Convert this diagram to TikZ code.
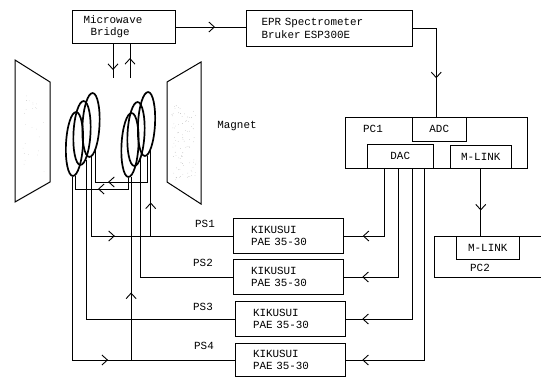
\documentclass[tikz,border=0pt]{standalone}
\usepackage{fontspec}
\setmonofont{Liberation Mono}
\usetikzlibrary{decorations.markings, arrows.meta, shapes.geometric}

\tikzset{
  every node/.style={font=\fontsize{10.9}{12.5}\selectfont\ttfamily},
  >={Straight Barb[length=5.5pt,width=10pt,line width=.9pt]},
  wire/.style={line width=.9pt},
  midtip/.style={wire, postaction={decorate}, decoration={markings, mark=at position #1pt with {\arrow{>}}}},
  unitbox/.style={draw, line width=1pt, rectangle, anchor=north west, inner sep=0pt, align=left},
  psubox/.style={unitbox, minimum width=110pt, minimum height=34pt, inner xsep=17.5pt, text width=75pt},
  cardbox/.style={draw, line width=.5pt, rectangle, anchor=north west, inner sep=0pt},
  coil/.style={draw, ellipse, line width=1.7pt, inner sep=0pt, minimum width=17pt, minimum height=64pt, rotate=-3},
  magnetplate/.style={line width=1pt}
}

\begin{document}
\begin{tikzpicture}[x=1pt, y=-1pt]
  \useasboundingbox (0, 0) rectangle (541, 378);

  % ----- Magnet: two pole plates -----
  \draw[magnetplate] (15, 60) -- (50, 82) -- (50, 182) -- (15, 202) -- cycle;
  \draw[magnetplate] (167, 82) -- (201, 62) -- (201, 204) -- (167, 182) -- cycle;
  \pgfmathsetseed{7}
  \foreach \i in {1,...,90} {
    \fill[gray!70] ({172+rnd*24}, {105+rnd*75}) circle (.3);
  }
  \foreach \i in {1,...,25} {
    \fill[gray!50] ({22+rnd*24}, {90+rnd*85}) circle (.3);
  }
  \node (magnet) at (237, 126) {Magnet};

  % ----- Coils -----
  \node[coil] (coilC) at (91, 125) {};
  \node[coil] (coilB) at (82, 133) {};
  \node[coil] (coilA) at (74.5, 144) {};
  \node[coil] (coilF) at (146.5, 124) {};
  \node[coil] (coilE) at (136, 134) {};
  \node[coil] (coilD) at (130, 145) {};

  % ----- Top row -----
  \node[unitbox, minimum width=103pt, minimum height=33pt, inner xsep=11pt, text width=81pt] (micro) at (72, 10) {Microwave\\[-.5pt]\hspace*{7pt}Bridge};
  \node[unitbox, minimum width=166pt, minimum height=36pt, inner xsep=15pt, text width=136pt] (epr) at (246, 10) {EPR Spectrometer\\Bruker ESP300E};
  \coordinate (wavein) at (113, 78);
  \coordinate (waveout) at (130, 78);

  % ----- PC1 with its cards -----
  \node[unitbox, minimum width=182pt, minimum height=51pt] (pcone) at (345, 117) {};
  \node (pconelabel) at (373, 129) {PC1};
  \node[cardbox, minimum width=54pt, minimum height=24pt] (adc) at (412, 117) {ADC};
  \node[cardbox, minimum width=66pt, minimum height=24pt] (dac) at (367, 144) {DAC};
  \node[cardbox, minimum width=61pt, minimum height=23pt] (mlinkone) at (450, 145) {M-LINK};

  % ----- PC2 -----
  \node[unitbox, minimum width=106.5pt, minimum height=41pt] (pctwo) at (434, 236) {};
  \node[cardbox, minimum width=63pt, minimum height=23pt] (mlinktwo) at (456, 236) {M-LINK};
  \node (pctwolabel) at (480, 268) {PC2};

  % ----- Power supplies -----
  \node[psubox, minimum height=35pt] (psone) at (233, 218) {KIKUSUI\\PAE 35-30};
  \node[psubox, minimum height=35pt] (pstwo) at (233, 259) {KIKUSUI\\PAE 35-30};
  \node[psubox, minimum height=35pt] (psthree) at (235, 301) {KIKUSUI\\PAE 35-30};
  \node[psubox, minimum height=33pt] (psfour) at (235, 343) {KIKUSUI\\PAE 35-30};
  \node (psonelabel) at (205, 224) {PS1};
  \node (pstwolabel) at (203, 263) {PS2};
  \node (psthreelabel) at (203, 307) {PS3};
  \node (psfourlabel) at (204, 346) {PS4};

  % ----- Signal path -----
  \draw[midtip=39] (micro.east) -- (micro.east -| epr.west);
  \draw[midtip=26] (micro.south -| wavein) -- (wavein);
  \draw[midtip=20] (waveout) -- (micro.south -| waveout);
  \draw[midtip=73] (epr.east) -| ([xshift=-3pt]adc.north);
  \draw[midtip=42] (mlinkone.south) -- (mlinkone.south |- pctwo.north);

  % ----- DAC to power supplies -----
  \draw[midtip=89] ([xshift=-16pt]dac.south) |- (psone.east);
  \draw[midtip=144.5] ([xshift=-2pt]dac.south) |- (pstwo.east);
  \draw[midtip=200.5] ([xshift=12pt]dac.south) |- (psthree.east);
  \draw[midtip=253.5] ([xshift=24pt]dac.south) |- (psfour.east);

  % ----- Power supplies to coils -----
  \draw[midtip=102.5] (coilC.-87) |- (psone.west);
  \draw[midtip=33.5] (coilF.-78 |- psone.west) -- (coilF.-78);
  \draw[wire] (coilE.-76) |- (pstwo.west);
  \draw[wire] (coilB.-78) |- (psthree.west);
  \draw[midtip=218.5] (coilA.south) |- (psfour.west);
  \draw[midtip=67.5] (coilD.-85 |- psfour.west) -- (coilD.-85);

  % ----- Links between coil pairs -----
  \coordinate (linkup) at (0, 182);
  \coordinate (linklow) at (0, 189);
  \draw[midtip=65] (coilF.-86) -- (coilF.-86 |- linkup) -- (coilC.-76 |- linkup) -- (coilC.-76);
  \draw[midtip=41.5] (coilD.south) -- (coilD.south |- linklow) -- (coilA.-86 |- linklow) -- (coilA.-86);
\end{tikzpicture}
\end{document}
